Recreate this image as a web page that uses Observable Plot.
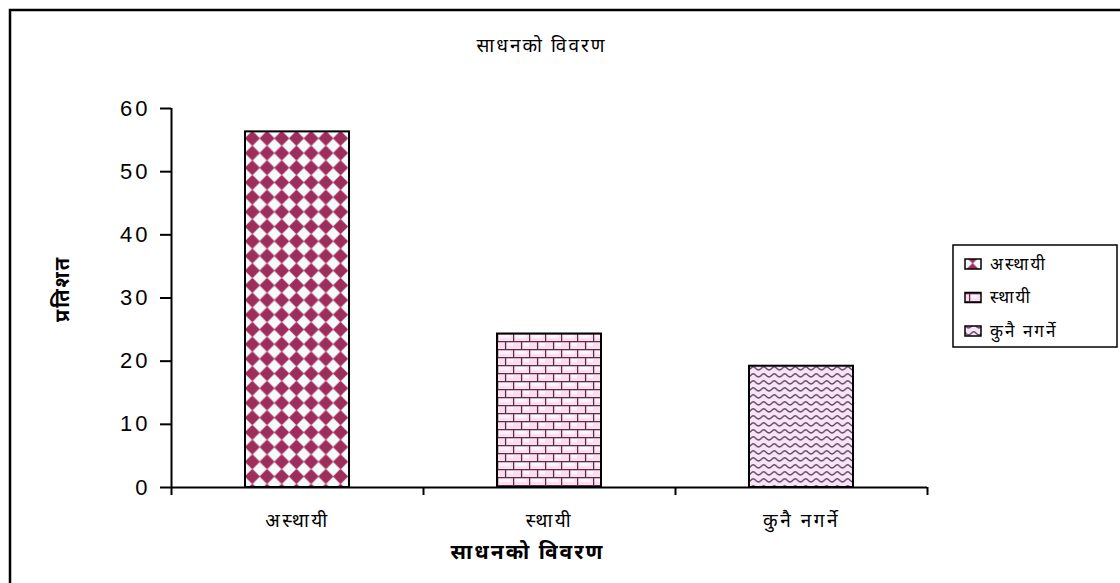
<!DOCTYPE html>
<html><head><meta charset="utf-8">
<script src="https://cdn.jsdelivr.net/npm/d3@7"></script>
<script src="https://cdn.jsdelivr.net/npm/@observablehq/plot@0.6"></script>
<style>
html,body{margin:0;padding:0;background:#fff;overflow:hidden;}
</style></head><body><div id="chart"></div>
<script>
// ---- data ----
const categories = ["अस्थायी", "स्थायी", "कुनै नगर्ने"];
const values = [56.3, 24.3, 19.2];
const yTicks = [0, 10, 20, 30, 40, 50, 60];
const title = "साधनको विवरण";
const xLabel = "साधनको विवरण";
const yLabel = "प्रतिशत";
const legendLabels = ["अस्थायी", "स्थायी", "कुनै नगर्ने"];
const patternIds = ["pat-diamond", "pat-brick", "pat-wave"];

const data = categories.map((c, i) => ({category: c, value: values[i]}));
const patternUrls = patternIds.map(id => `url(#${id})`);

const W = 1120, H = 583;
const mL = 171, mR = 193, mT = 108, mB = 96;
const step = (W - mL - mR) / categories.length;
const devFont = "'Noto Sans Devanagari', 'Lohit Devanagari', 'FreeSans', 'Noto Sans', sans-serif";
const numFont = "'Liberation Sans', Arial, sans-serif";

const chart = Plot.plot({
  width: W, height: H,
  marginLeft: mL, marginRight: mR, marginTop: mT, marginBottom: mB,
  style: {background: "white", fontFamily: devFont, color: "black"},
  x: {domain: categories, paddingInner: 0.587, paddingOuter: 0.2935, axis: null},
  y: {domain: [0, 60], axis: null},
  color: {domain: categories, range: patternUrls},
  marks: [
    Plot.barY(data, {x: "category", y: "value", fill: "category", stroke: "black", strokeWidth: 2}),
    Plot.ruleY([0], {stroke: "black", strokeWidth: 2}),
    Plot.ruleX([categories[0]], {x: d => d, dx: -step / 2, y1: 0, y2: 60, stroke: "black", strokeWidth: 2}),
    Plot.axisY({ticks: yTicks, tickSize: 11, tickPadding: 10, fontSize: 22, fontFamily: numFont, label: null, strokeWidth: 2}),
    Plot.axisX({tickSize: 8, dx: -step / 2, text: null, label: null, strokeWidth: 2}),
    Plot.axisX([categories[categories.length - 1]], {tickSize: 8, dx: step / 2, text: null, label: null, strokeWidth: 2}),
    Plot.axisX({tickSize: 0, tickPadding: 26, fontSize: 19, label: null}),
    Plot.text([title], {frameAnchor: "top", dy: -70, dx: -8, fontSize: 19, text: d => d}),
    Plot.text([xLabel], {frameAnchor: "bottom", dy: 71, dx: -22, fontSize: 21, fontWeight: "bold", text: d => d}),
    Plot.text([yLabel], {frameAnchor: "left", dx: -109, dy: 24, rotate: -90, fontSize: 20, fontWeight: "bold", text: d => d})
  ]
});
document.getElementById("chart").appendChild(chart);

// ---- patterns & decorations ----
const svg = d3.select(chart);
const defs = svg.insert("defs", ":first-child");

// letter spacing to mimic the wide original typeface
svg.selectAll('g[aria-label="y-axis tick label"] text').attr("letter-spacing", 3);
svg.selectAll('g[aria-label="x-axis tick label"] text').attr("letter-spacing", 2.5);
svg.selectAll('g[aria-label="text"] text').each(function() {
  const t = d3.select(this);
  t.attr("letter-spacing", t.attr("font-weight") === "bold" ? 3.5 : 2);
});

// diamond checker
const s = 14.7;
const p1 = defs.append("pattern").attr("id", patternIds[0]).attr("patternUnits", "userSpaceOnUse")
  .attr("width", s).attr("height", s).attr("x", 245).attr("y", 131);
p1.append("rect").attr("width", s).attr("height", s).attr("fill", "#f3fbfb");
p1.append("path").attr("d", `M${s/2},-0.6 L${s+0.6},${s/2} L${s/2},${s+0.6} L-0.6,${s/2}Z`).attr("fill", "#e4a3c2");
p1.append("path").attr("d", `M${s/2},1.0 L${s-1.0},${s/2} L${s/2},${s-1.0} L1.0,${s/2}Z`).attr("fill", "#9e2d5c")
  .attr("stroke", "#9e2d5c").attr("stroke-width", 1.5).attr("stroke-linejoin", "round");

// brick
const bw = 16, bh = 8;
const p2 = defs.append("pattern").attr("id", patternIds[1]).attr("patternUnits", "userSpaceOnUse")
  .attr("width", bw).attr("height", bh * 2).attr("x", 497).attr("y", 333);
p2.append("rect").attr("width", bw).attr("height", bh * 2).attr("fill", "#fbdff1");
p2.append("rect").attr("x", 1.5).attr("y", 2).attr("width", 12).attr("height", 3).attr("fill", "#fff4fb");
p2.append("rect").attr("x", 9.5).attr("y", 10).attr("width", 12).attr("height", 3).attr("fill", "#fff4fb");
p2.append("path").attr("d", `M0,0.6H${bw}M0,${bh + 0.6}H${bw}M0.6,0V${bh}M${bw/2 + 0.6},${bh}V${bh*2}`)
  .attr("stroke", "#5b2f48").attr("stroke-width", 1.3).attr("fill", "none");

// wave
const ww = 10.5, wh = 7;
const p3 = defs.append("pattern").attr("id", patternIds[2]).attr("patternUnits", "userSpaceOnUse")
  .attr("width", ww).attr("height", wh).attr("x", 748).attr("y", 365);
p3.append("rect").attr("width", ww).attr("height", wh).attr("fill", "#f8e4f7");
p3.append("path").attr("d", `M-1,5.3 Q${ww/4},0.2 ${ww/2},3.4 Q${3*ww/4},6.6 ${ww+1},1.6`)
  .attr("d", `M0,5 C${ww*0.2},5 ${ww*0.3},1.8 ${ww/2},1.8 C${ww*0.7},1.8 ${ww*0.8},5 ${ww},5`)
  .attr("stroke", "#5e455e").attr("stroke-width", 1.4).attr("fill", "none");

// outer border (extends past the window)
svg.append("rect").attr("x", 10).attr("y", 10).attr("width", 1200).attr("height", 700)
  .attr("fill", "none").attr("stroke", "black").attr("stroke-width", 2.5);

// legend
const lg = svg.append("g");
lg.append("rect").attr("x", 953).attr("y", 245).attr("width", 164).attr("height", 102)
  .attr("fill", "white").attr("stroke", "black").attr("stroke-width", 1.5);
legendLabels.forEach((lab, i) => {
  const cy = 264 + i * 33.5;
  lg.append("rect").attr("x", 965).attr("y", cy - 5).attr("width", 16).attr("height", 10)
    .attr("fill", patternUrls[i]).attr("stroke", "black").attr("stroke-width", 1.5);
  lg.append("text").attr("x", 990).attr("y", cy).attr("dy", "0.35em").attr("text-anchor", "start")
    .attr("font-size", 17).attr("letter-spacing", 2).attr("font-family", devFont).text(lab);
});
</script>
</body></html>
